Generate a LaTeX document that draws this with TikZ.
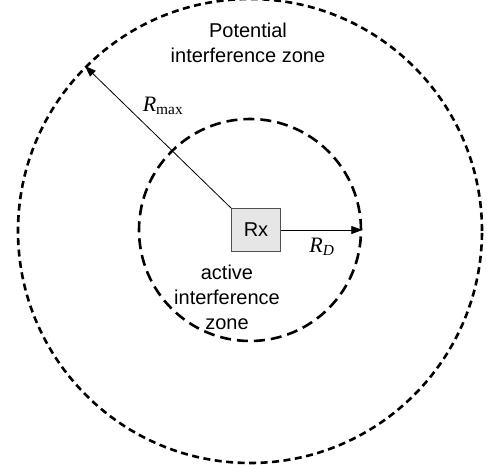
\documentclass[tikz,border=0pt]{standalone}
\usepackage{fontspec}
\setmainfont{Liberation Sans}
\newfontfamily\tnr{Liberation Serif}
\usetikzlibrary{arrows.meta, positioning}
\definecolor{rxfill}{HTML}{E6E6E6}
\definecolor{rxdraw}{HTML}{505050}
\newcommand{\radius}[1]{{\tnr\itshape R}\textsubscript{\tnr #1}}

\begin{document}
\begin{tikzpicture}[
  x=1pt, y=-1pt,
  every node/.style={font=\fontsize{20}{25}\selectfont},
  zone/.style={circle, draw, line width=2.6pt, minimum size=#1, inner sep=0pt},
  rxbox/.style={rectangle, draw=rxdraw, fill=rxfill, line width=1pt, minimum width=49pt, minimum height=43pt},
  arrow/.style={-{Triangle[length=11pt, width=8pt]}, line width=0.8pt},
  label/.style={align=center, inner sep=0pt},
]
\useasboundingbox (0,0) rectangle (487,465);
\node[zone=464pt, dash pattern=on 7pt off 4.5pt] (outer) at (250,231) {};
\node[zone=222pt, dash pattern=on 11pt off 6pt] (inner) at (250,230) {};
\node[rxbox] (rx) at (256,230) {Rx};

\draw[arrow] (rx.north west) -- (outer.135);
\draw[arrow] (rx.east) -- (inner.east);

\node[label] (potential) at (248,43) {Potential\\interference zone};
\node[label] (active) at (227,297) {active\\interference\\zone};
\node[font=\fontsize{22}{26}\selectfont] (rmax) at (163,106) {\radius{max}};
\node[font=\fontsize{22}{26}\selectfont] (rd) at (322,247) {\radius{\itshape D}};
\end{tikzpicture}
\end{document}
